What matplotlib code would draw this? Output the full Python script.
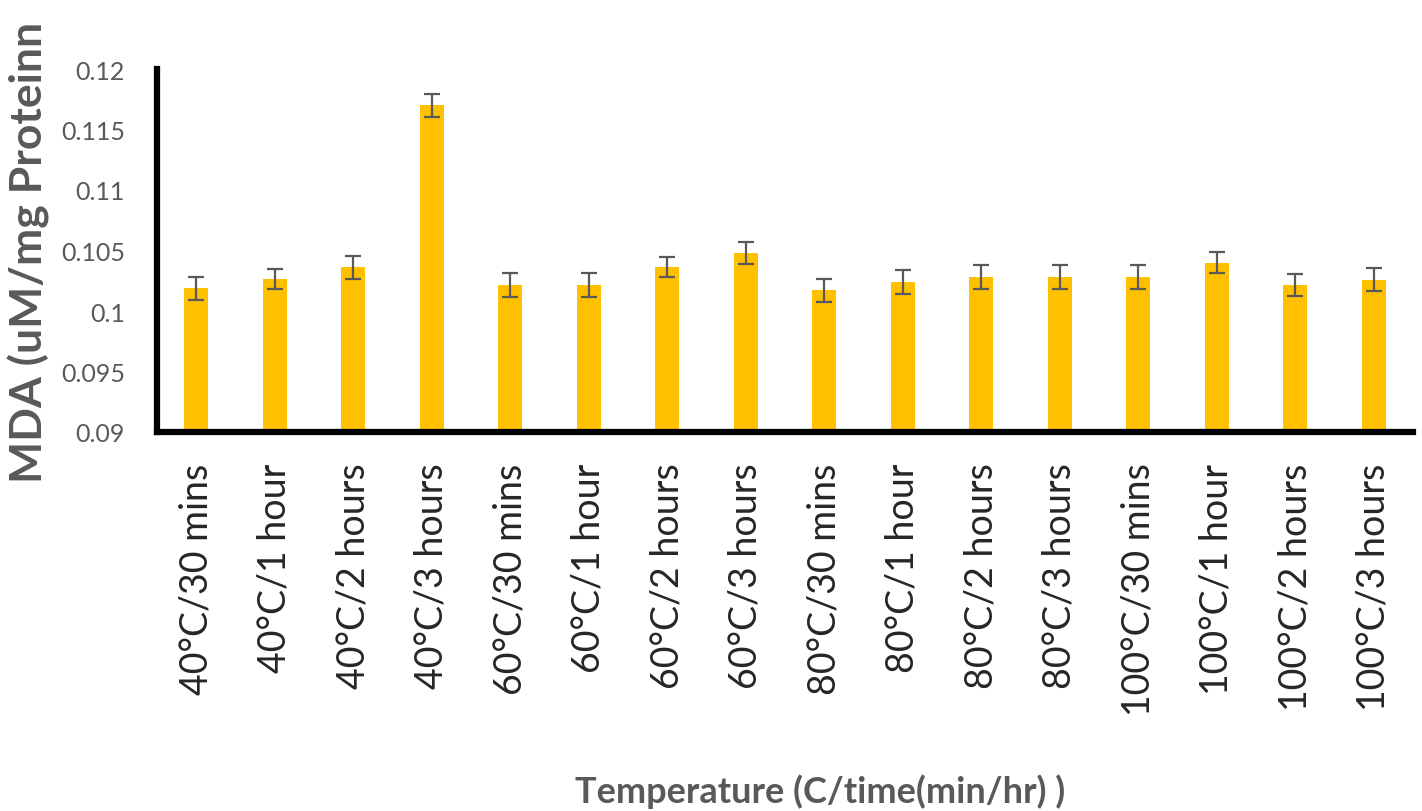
import matplotlib
matplotlib.use("Agg")
import matplotlib.pyplot as plt

categories = ["40°C/30 mins", "40°C/1 hour", "40°C/2 hours", "40°C/3 hours",
              "60°C/30 mins", "60°C/1 hour", "60°C/2 hours", "60°C/3 hours",
              "80°C/30 mins", "80°C/1 hour", "80°C/2 hours", "80°C/3 hours",
              "100°C/30 mins", "100°C/1 hour", "100°C/2 hours", "100°C/3 hours"]
mda_values = [0.1019, 0.10265, 0.1036, 0.1170, 0.10215, 0.10215, 0.1036, 0.1048,
              0.1017, 0.1024, 0.1028, 0.1028, 0.1028, 0.1040, 0.10215, 0.1026]
mda_errors = [0.00095, 0.00083, 0.00095, 0.00094, 0.00096, 0.00096, 0.00083, 0.00093,
              0.00096, 0.00096, 0.00097, 0.00097, 0.00097, 0.00084, 0.00093, 0.00093]
y_ticks = [0.09, 0.095, 0.1, 0.105, 0.11, 0.115, 0.12]
y_tick_labels = ["0.09", "0.095", "0.1", "0.105", "0.11", "0.115", "0.12"]

W, H = 1422, 812
fig = plt.figure(figsize=(W / 100, H / 100), dpi=100)
ax = fig.add_axes([157 / W, 1 - 433 / H, (1413 - 157) / W, (433 - 70) / H])

x = list(range(len(categories)))
ax.bar(x, mda_values, width=0.31, color="#FFC000", zorder=2)
ax.errorbar(x, mda_values, yerr=mda_errors, fmt="none", ecolor="#595959",
            elinewidth=1.6, capsize=6, capthick=1.6, zorder=3)

ax.set_xlim(-0.5, len(categories) - 0.5)
ax.set_ylim(0.09, 0.12)
ax.set_yticks(y_ticks)
ax.set_yticklabels(y_tick_labels, fontsize=18, color="#595959", family="Lato")
ax.set_xticks(x)
ax.set_xticklabels(categories, rotation=90, fontsize=27, color="#262626", family="Lato")
ax.tick_params(axis="both", length=0)
ax.tick_params(axis="x", pad=22)
ax.tick_params(axis="y", pad=23)

for s in ["top", "right"]:
    ax.spines[s].set_visible(False)
for s in ["left", "bottom"]:
    ax.spines[s].set_linewidth(4.5)
    ax.spines[s].set_color("black")
    ax.spines[s].set_capstyle("projecting")

fig.text(820 / W, 1 - 792 / H, "Temperature (C/time(min/hr) )", ha="center", va="center",
         fontsize=26, fontweight="bold", color="#595959", family="Lato")
fig.text(29 / W, 1 - 252 / H, "MDA (uM/mg Proteinn", ha="center", va="center",
         rotation=90, fontsize=32, fontweight="bold", color="#595959", family="Lato")

fig.savefig("out.png", dpi=100)
